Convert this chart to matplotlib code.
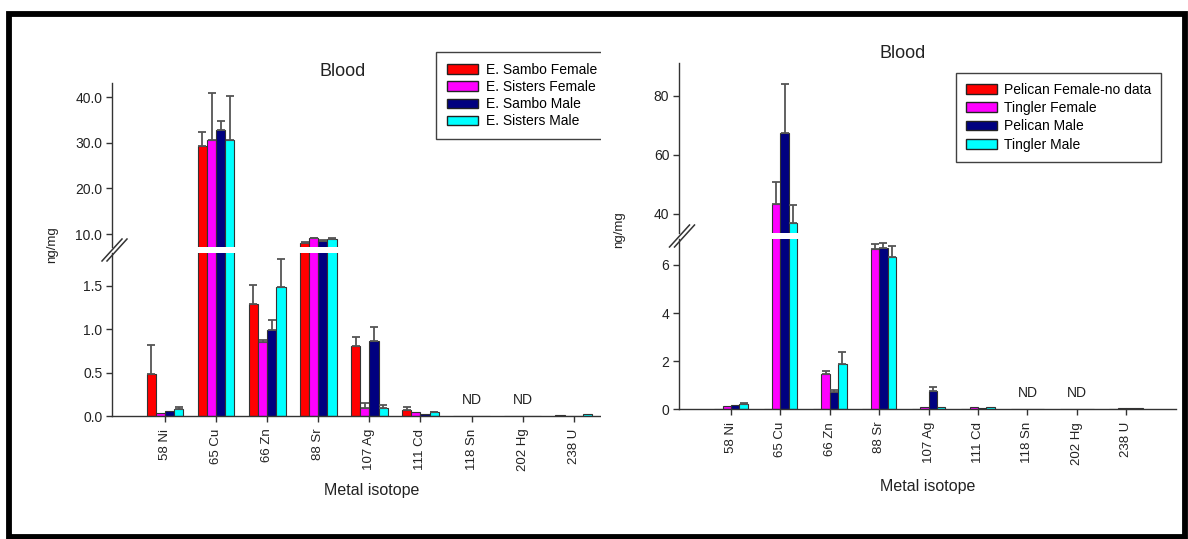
import matplotlib
matplotlib.use("Agg")
import matplotlib.pyplot as plt
from matplotlib.patches import Rectangle, Patch
from matplotlib.lines import Line2D
import numpy as np

plt.rcParams['font.family'] = ['Liberation Sans', 'DejaVu Sans']

W, H = 1188, 539

isotopes = ['58 Ni', '65 Cu', '66 Zn', '88 Sr', '107 Ag', '111 Cd', '118 Sn', '202 Hg', '238 U']

# left panel
left_labels = ['E. Sambo Female', 'E. Sisters Female', 'E. Sambo Male', 'E. Sisters Male']
sambo_f = [0.49, 29.3, 1.29, 8.1, 0.81, 0.07, 0, 0, 0.015]
sambo_f_err = [0.33, 3.1, 0.22, 0.15, 0.10, 0.035, 0, 0, 0]
sisters_f = [0.03, 30.6, 0.857, 9.05, 0.096, 0.043, 0, 0, 0]
sisters_f_err = [0, 10.4, 0.02, 0.15, 0.05, 0, 0, 0, 0]
sambo_m = [0.06, 32.8, 0.99, 8.5, 0.87, 0.023, 0, 0, 0.005]
sambo_m_err = [0, 2.0, 0.12, 0.15, 0.16, 0, 0, 0, 0]
sisters_m = [0.077, 30.6, 1.49, 8.9, 0.089, 0.043, 0, 0, 0.025]
sisters_m_err = [0.03, 9.6, 0.32, 0.15, 0.038, 0.007, 0, 0, 0]

# right panel
right_labels = ['Pelican Female-no data', 'Tingler Female', 'Pelican Male', 'Tingler Male']
pelican_f = [0, 0, 0, 0, 0, 0, 0, 0, 0]
pelican_f_err = [0, 0, 0, 0, 0, 0, 0, 0, 0]
tingler_f = [0.14, 43.3, 1.47, 6.68, 0.1, 0.1, 0, 0.03, 0.05]
tingler_f_err = [0, 7.4, 0.13, 0.2, 0, 0, 0, 0, 0]
pelican_m = [0.17, 67.5, 0.70, 6.71, 0.78, 0.07, 0, 0.03, 0.05]
pelican_m_err = [0, 16.4, 0.11, 0.19, 0.14, 0, 0, 0, 0]
tingler_m = [0.21, 37.0, 1.88, 6.32, 0.09, 0.09, 0, 0, 0.05]
tingler_m_err = [0.04, 6.1, 0.52, 0.46, 0, 0, 0, 0, 0]

nd_isotopes = ['118 Sn', '202 Hg']
colors = ['#ff0000', '#ff00ff', '#000080', '#00ffff']

fig = plt.figure(figsize=(W / 100, H / 100), dpi=100)


def px_axes(l, t, r, b, z):
    ax = fig.add_axes([l / W, 1 - b / H, (r - l) / W, (b - t) / H])
    ax.set_zorder(z)
    return ax


def draw_bars(ax, series, errs, width):
    x = np.arange(len(isotopes))
    for k, (vals, err) in enumerate(zip(series, errs)):
        xs = x + (k - 1.5) * width
        ax.bar(xs, vals, width, color=colors[k], edgecolor='#333333', linewidth=0.8)
        vals = np.array(vals)
        err = np.array(err)
        m = err > 0
        ax.errorbar(xs[m], vals[m], yerr=[np.zeros(m.sum()), err[m]], fmt='none',
                    ecolor='#555555', elinewidth=1.3, capsize=3.2, capthick=1.3)


def style(ax):
    for s in ['top', 'right']:
        ax.spines[s].set_visible(False)
    for s in ['left', 'bottom']:
        ax.spines[s].set_color('#333333')
        ax.spines[s].set_linewidth(1.0)
    ax.tick_params(direction='out', length=4, width=1, color='#333333',
                   labelsize=10, labelcolor='#222222', pad=3)
    ax.tick_params(axis='x', labelsize=9.5, pad=5)


def panel(l, r, upper_px, lower_px, xlim, ylim_up, ylim_lo, ticks_up, ticks_lo, fmt,
          series, errs, width, nd_y, z):
    up = px_axes(l, upper_px[0], r, upper_px[1], z)
    lo = px_axes(l, lower_px[0], r, lower_px[1], z)
    for ax in (up, lo):
        style(ax)
        draw_bars(ax, series, errs, width)
        ax.set_xlim(*xlim)
    up.set_ylim(*ylim_up)
    lo.set_ylim(*ylim_lo)
    up.spines['bottom'].set_visible(False)
    up.tick_params(axis='x', bottom=False, labelbottom=False)
    up.set_yticks(ticks_up)
    lo.set_yticks(ticks_lo)
    up.set_yticklabels([fmt.format(t) for t in ticks_up])
    lo.set_yticklabels([fmt.format(t) for t in ticks_lo])
    lo.set_xticks(np.arange(len(isotopes)))
    lo.set_xticklabels(isotopes, rotation=90)
    for name in nd_isotopes:
        lo.text(isotopes.index(name), nd_y, 'ND', ha='center', va='bottom',
                fontsize=10, color='#222222')
    return up, lo


def break_marks(cx, cy):
    for dx in (-2.5, 2.5):
        xs = [cx + dx - 10, cx + dx + 10]
        ys = [cy + 11, cy - 11]
        fig.add_artist(Line2D([x / W for x in xs], [1 - y / H for y in ys],
                              color='#333333', lw=1.1, zorder=5))


# left panel: category i at 165 + 51.1 * i px
l_up, l_lo = panel(112, 601, (83, 247), (253, 416),
                   ((112 - 165) / 51.1, (601 - 165) / 51.1),
                   (10 - (247 - 234) / 4.557, 40 + (97.3 - 83) / 4.557),
                   (0, (416 - 253) / 86.67),
                   [10, 20, 30, 40], [0, 0.5, 1.0, 1.5], '{:.1f}',
                   [sambo_f, sisters_f, sambo_m, sisters_m],
                   [sambo_f_err, sisters_f_err, sambo_m_err, sisters_m_err],
                   0.18, 0.1, 1)

leg = l_up.legend(handles=[Patch(facecolor=c, edgecolor='#222222', label=t)
                           for c, t in zip(colors, left_labels)],
                  loc='upper left', bbox_to_anchor=(436 / W, 1 - 52 / H),
                  bbox_transform=fig.transFigure, fontsize=10, frameon=True,
                  fancybox=False, borderaxespad=0, borderpad=0.8,
                  handlelength=2.2, handleheight=0.7, handletextpad=0.6,
                  labelspacing=0.22)
leg.get_frame().set_edgecolor('#111111')
leg.get_frame().set_linewidth(1.0)

# white cover that clips the left panel
fig.add_artist(Rectangle((601 / W, 0), 1 - 601 / W, 1, transform=fig.transFigure,
                         facecolor='white', edgecolor='none', zorder=2))

# right panel: category i at 731 + 49.4 * i px
r_up, r_lo = panel(679, 1176, (63, 233), (239, 409.3),
                   ((679 - 731) / 49.4, (1176 - 731) / 49.4),
                   (40 - (233 - 213.7) / 2.95, 80 + (95.7 - 63) / 2.95),
                   (0, (409.3 - 239) / 24.05),
                   [40, 60, 80], [0, 2, 4, 6], '{:.0f}',
                   [pelican_f, tingler_f, pelican_m, tingler_m],
                   [pelican_f_err, tingler_f_err, pelican_m_err, tingler_m_err],
                   0.17, 0.39, 3)

leg2 = r_up.legend(handles=[Patch(facecolor=c, edgecolor='#222222', label=t)
                            for c, t in zip(colors, right_labels)],
                   loc='upper left', bbox_to_anchor=(956 / W, 1 - 73 / H),
                   bbox_transform=fig.transFigure, fontsize=10, frameon=True,
                   fancybox=False, borderaxespad=0, borderpad=0.72,
                   handlelength=2.2, handleheight=0.7, handletextpad=0.5,
                   labelspacing=0.3)
leg2.get_frame().set_edgecolor('#111111')
leg2.get_frame().set_linewidth(1.0)

break_marks(114.5, 250)
break_marks(682, 236)

# texts
fig.text(343 / W, 1 - 71 / H, 'Blood', ha='center', va='center', fontsize=13, color='#222222')
fig.text(903 / W, 1 - 53 / H, 'Blood', ha='center', va='center', fontsize=13, color='#222222')
fig.text(52 / W, 1 - 245 / H, 'ng/mg', ha='center', va='center', rotation=90, fontsize=9.5, color='#222222')
fig.text(619 / W, 1 - 230 / H, 'ng/mg', ha='center', va='center', rotation=90, fontsize=9.5, color='#222222')
fig.text(372 / W, 1 - 490 / H, 'Metal isotope', ha='center', va='center', fontsize=11.5, color='#222222')
fig.text(928 / W, 1 - 487 / H, 'Metal isotope', ha='center', va='center', fontsize=11.5, color='#222222')

# outer frame
fig.add_artist(Rectangle((8.5 / W, 1 - 537 / H), (1184.5 - 8.5) / W, (537 - 13.5) / H,
                         transform=fig.transFigure, facecolor='none',
                         edgecolor='black', linewidth=4.2, zorder=10))

fig.savefig('out.png', dpi=100)
